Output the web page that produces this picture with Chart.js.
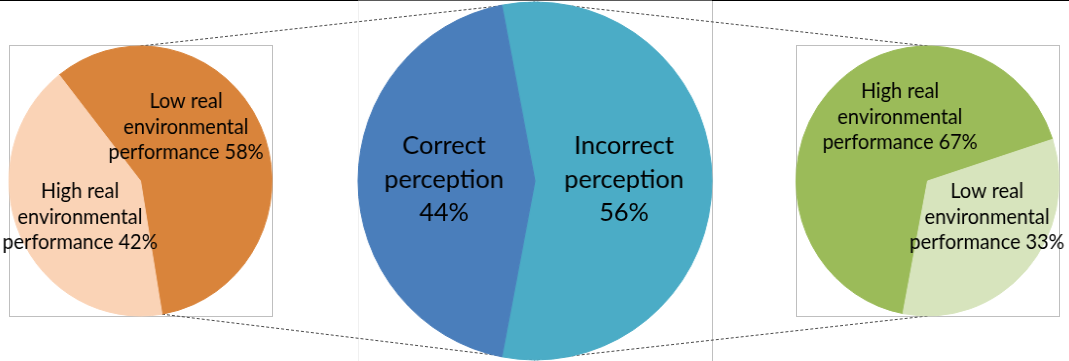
<!DOCTYPE html>
<html>
<head>
<meta charset="utf-8">
<script src="https://cdn.jsdelivr.net/npm/chart.js@4"></script>
<style>
  html, body { margin: 0; padding: 0; background: #ffffff; }
  #stage { position: relative; width: 1069px; height: 361px; overflow: hidden; background: #ffffff; }
  #stage canvas { position: absolute; left: 0; top: 0; }
</style>
</head>
<body>
<div id="stage">
  <canvas id="frame" width="1069" height="361"></canvas>
  <canvas id="leftPie" width="1069" height="361"></canvas>
  <canvas id="rightPie" width="1069" height="361"></canvas>
  <canvas id="mainPie" width="1069" height="361"></canvas>
</div>
<script>
// ---- data ----
const mainCategories = [['Incorrect', 'perception'], ['Correct', 'perception']];
const mainValues = [56, 44];

const correctCategories = [['Low real', 'environmental', 'performance'], ['High real', 'environmental', 'performance']];
const correctValues = [58, 42];

const incorrectCategories = [['High real', 'environmental', 'performance'], ['Low real', 'environmental', 'performance']];
const incorrectValues = [67, 33];

// ---- layout ----
const W = 1069, H = 361;
const FONT = 'Lato, "Open Sans", sans-serif';

// pie geometry: centre, vertical radius, horizontal squeeze, start angle (deg from 12 o'clock)
const leftGeo  = { cx: 140.5, cy: 181, r: 135, sx: 0.974, rotation: -38.2 };
const mainGeo  = { cx: 535,   cy: 181, r: 179, sx: 0.989, rotation: -10.8 };
const rightGeo = { cx: 927.5, cy: 181, r: 135, sx: 0.974, rotation: 190.8 };

// label blocks: offset of the first baseline from the pie centre (screen px)
const leftLabelAt  = [[45.5, -73], [-60.5, 17]];
const mainLabelAt  = [[89, -27], [-91, -27]];
const rightLabelAt = [[-27.5, -83], [59.5, 17]];

const leftColors  = ['#D9843B', '#FAD3B6'];
const mainColors  = ['#4BACC6', '#4A7EBB'];
const rightColors = ['#9BBB59', '#D7E4BD'];

// Draws the multi-line slice labels, value appended from the dataset
const sliceLabels = {
  id: 'sliceLabels',
  afterDatasetsDraw(chart, args, opts) {
    const ctx = chart.ctx;
    const meta = chart.getDatasetMeta(0);
    const values = chart.data.datasets[0].data;
    const g = opts.geo;
    ctx.save();
    ctx.fillStyle = '#000000';
    ctx.textAlign = 'center';
    ctx.textBaseline = 'alphabetic';
    ctx.font = opts.size + 'px ' + FONT;
    meta.data.forEach((arc, i) => {
      const lines = chart.data.labels[i].slice();
      const pct = values[i] + '%';
      if (opts.valueOnOwnLine) lines.push(pct);
      else lines[lines.length - 1] = lines[lines.length - 1] + ' ' + pct;
      const x = arc.x + opts.anchors[i][0] / g.sx;
      let y = arc.y + opts.anchors[i][1];
      lines.forEach(t => { ctx.fillText(t, x, y); y += opts.lineHeight; });
    });
    ctx.restore();
  }
};

function makePie(id, geo, labels, values, colors, anchors, labelOpts) {
  const canvas = document.getElementById(id);
  canvas.style.transformOrigin = geo.cx + 'px ' + geo.cy + 'px';
  canvas.style.transform = 'scaleX(' + geo.sx + ')';
  const half = geo.r + 0.5;
  return new Chart(canvas, {
    type: 'pie',
    data: {
      labels: labels,
      datasets: [{
        data: values,
        backgroundColor: colors,
        borderColor: colors,
        borderWidth: 1,
        hoverBorderWidth: 1,
        hoverOffset: 0
      }]
    },
    options: {
      responsive: false,
      animation: false,
      rotation: geo.rotation,
      layout: {
        padding: {
          left: geo.cx - half,
          right: W - geo.cx - half,
          top: geo.cy - half,
          bottom: H - geo.cy - half
        }
      },
      events: [],
      plugins: {
        legend: { display: false },
        tooltip: { enabled: false },
        sliceLabels: Object.assign({ geo: geo, anchors: anchors }, labelOpts)
      }
    },
    plugins: [sliceLabels]
  });
}

const leftChart  = makePie('leftPie', leftGeo, correctCategories, correctValues, leftColors, leftLabelAt,
  { size: 20.4, lineHeight: 25.5, valueOnOwnLine: false });
const rightChart = makePie('rightPie', rightGeo, incorrectCategories, incorrectValues, rightColors, rightLabelAt,
  { size: 20.4, lineHeight: 25.5, valueOnOwnLine: false });
const mainChart  = makePie('mainPie', mainGeo, mainCategories, mainValues, mainColors, mainLabelAt,
  { size: 25.6, lineHeight: 33.5, valueOnOwnLine: true });

// ---- frame, plot boxes and connector lines (drawn underneath the pies) ----
(function drawFrame() {
  const ctx = document.getElementById('frame').getContext('2d');
  // top border
  ctx.fillStyle = '#000000';
  ctx.fillRect(0, 0, 358, 1);
  ctx.fillRect(712, 0, W - 712, 1);
  ctx.fillStyle = '#595959';
  ctx.fillRect(358, 0, 354, 1);
  // vertical separators of the main plot
  ctx.fillStyle = '#F0F0F0';
  ctx.fillRect(358, 1, 1, H - 1);
  ctx.fillStyle = '#BFBFBF';
  ctx.fillRect(712, 1, 1, H - 1);

  // boxes around the two breakdown pies
  function box(g) {
    const hr = g.r * g.sx;
    ctx.strokeStyle = '#BFBFBF';
    ctx.lineWidth = 1;
    ctx.strokeRect(Math.round(g.cx - hr) + 0.5, Math.round(g.cy - g.r) - 0.5,
                   Math.round(2 * hr), Math.round(2 * g.r) + 1);
  }
  box(leftGeo);
  box(rightGeo);

  // point on a pie rim at a given angle (deg clockwise from 12 o'clock)
  function rim(g, deg) {
    const a = deg * Math.PI / 180;
    return [g.cx + Math.sin(a) * g.r * g.sx, g.cy - Math.cos(a) * g.r];
  }
  const leftSplit = leftGeo.rotation + 360 * correctValues[0] / 100;
  const segs = [
    [rim(leftGeo, 0), rim(mainGeo, 0)],
    [rim(leftGeo, leftSplit), rim(mainGeo, 180)],
    [rim(rightGeo, 0), rim(mainGeo, 0)],
    [rim(rightGeo, 180), rim(mainGeo, 180)]
  ];
  ctx.strokeStyle = '#4A4A4A';
  ctx.lineWidth = 1;
  ctx.setLineDash([3, 2]);
  segs.forEach(([a, b]) => {
    ctx.beginPath();
    ctx.moveTo(a[0], a[1]);
    ctx.lineTo(b[0], b[1]);
    ctx.stroke();
  });
})();
</script>
</body>
</html>
